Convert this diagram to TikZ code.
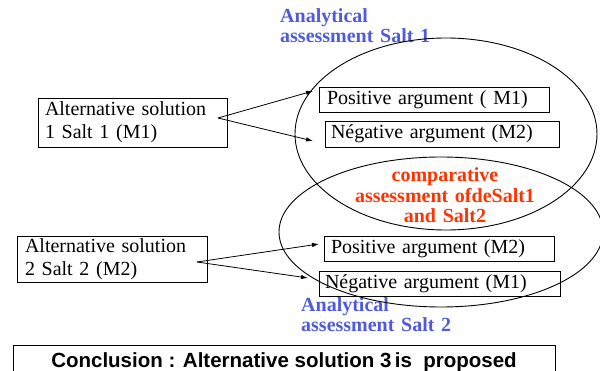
\documentclass[tikz,border=0pt]{standalone}
\usepackage{fontspec}
\setmainfont{Liberation Serif}
\newfontfamily\concfont{Liberation Sans}
\usetikzlibrary{arrows.meta}
\definecolor{anablue}{RGB}{80,90,220}
\definecolor{cmpred}{RGB}{255,51,0}
\begin{document}
\begin{tikzpicture}[x=1pt,y=-1pt,
 solbox/.style={draw,line width=0.9pt,align=left,inner xsep=7pt,inner ysep=0pt,font=\fontsize{20}{23}\selectfont},
 argbox/.style={draw,line width=0.9pt,align=left,inner xsep=7pt,inner ysep=0pt,font=\fontsize{20}{23}\selectfont},
 msg/.style={-{Latex[length=7pt,width=4.5pt]},line width=0.8pt},
 ana/.style={anchor=base west,align=left,inner sep=0pt,text=anablue,font=\fontsize{20}{20}\selectfont\bfseries},
 cmp/.style={anchor=base,align=center,inner sep=0pt,text=cmpred,font=\fontsize{20}{20.5}\selectfont\bfseries},
 ell/.style={line width=0.9pt},
 conc/.style={draw,line width=0.9pt,inner sep=0pt,font=\concfont\fontsize{20.5}{20.5}\selectfont\bfseries}]
\useasboundingbox (0,0) rectangle (600,371);
\clip (0,0) rectangle (600,371);
\node[solbox,text width=175pt,minimum height=49pt] (sol1) at (132.5,122.5) {Alternative solution\\1 Salt 1 (M1)};
\node[solbox,text width=174pt,inner xsep=8pt,minimum height=46pt] (sol2) at (112,259) {Alternative solution\\2 Salt 2 (M2)};
\node[argbox,text width=214pt,inner xsep=8pt,minimum height=25pt] (pos1) at (434,99.5) {Positive argument ( M1)};
\node[argbox,text width=222pt,inner xsep=6pt,minimum height=26pt] (neg1) at (442,134) {Négative argument (M2)};
\node[argbox,text width=216pt,minimum height=25pt] (pos2) at (439,248.5) {Positive argument (M2)};
\node[argbox,text width=229pt,inner xsep=6pt,minimum height=25pt] (neg2) at (439.5,283.5) {Négative argument (M1)};
\coordinate (o1) at (218,118);
\coordinate (o2) at (197,262);
\coordinate (t1) at (313,91);
\coordinate (t2) at (313,141);
\coordinate (t3) at (319,244);
\coordinate (t4) at (308,278);
\draw[msg] (o1) -- (t1);
\draw[msg] (o1) -- (t2);
\draw[msg] (o2) -- (t3);
\draw[msg] (o2) -- (t4);
\node[ana,text width=160pt] (ana1) at (280,23) {Analytical\\assessment Salt 1};
\node[ana,text width=160pt] (ana2) at (301,312) {Analytical\\assessment Salt 2};
\node[cmp,text width=200pt] (cmp) at (445,182) {comparative\\assessment ofdeSalt1\\and Salt2};
\draw[ell] (446,134) ellipse [x radius=151pt,y radius=96pt];
\draw[ell] (441,232) ellipse [x radius=162pt,y radius=75pt];
\node[conc,minimum width=542pt,minimum height=34pt] (concl) at (284,362) {Conclusion : Alternative solution 3\,is\ \ proposed};
\end{tikzpicture}
\end{document}
